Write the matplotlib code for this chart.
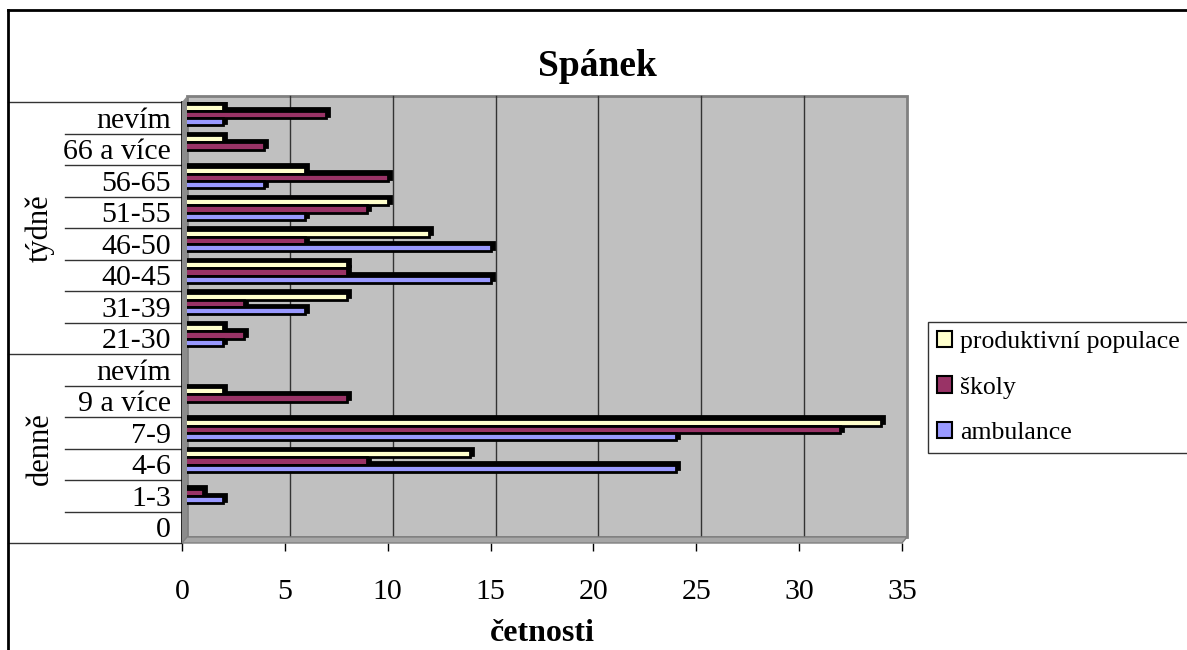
import matplotlib
matplotlib.use("Agg")
import matplotlib.pyplot as plt
import matplotlib.transforms as mtransforms
from matplotlib.patches import Patch, Polygon, Rectangle
from matplotlib.lines import Line2D
import numpy as np

plt.rcParams["font.family"] = ["Liberation Serif", "DejaVu Serif"]

# categories listed top to bottom as they appear on the axis
categories = ["nevím", "66 a více", "56-65", "51-55", "46-50", "40-45", "31-39", "21-30",
              "nevím", "9 a více", "7-9", "4-6", "1-3", "0"]
groups = ["týdně", "denně"]
group_sizes = [8, 6]

series_names = ["produktivní populace", "školy", "ambulance"]
produktivni = [2, 2, 6, 10, 12, 8, 8, 2, 0, 2, 34, 14, 0, 0]
skoly = [7, 4, 10, 9, 6, 8, 3, 3, 0, 8, 32, 9, 1, 0]
ambulance = [2, 0, 4, 6, 15, 15, 6, 2, 0, 0, 24, 24, 2, 0]
colors = ["#FFFFCC", "#993366", "#9999FF"]

xticks = [0, 5, 10, 15, 20, 25, 30, 35]

W, H = 1187, 650
fig = plt.figure(figsize=(W / 100, H / 100), dpi=100)

# front plane of the plot area in pixels
left, right, top, bottom = 182, 902, 102, 543
ax = fig.add_axes([left / W, 1 - bottom / H, (right - left) / W, (bottom - top) / H])
ax.set_facecolor("none")
n = len(categories)
ax.set_xlim(0, 35)
ax.set_ylim(-0.5, n - 0.5)
for s in ax.spines.values():
    s.set_visible(False)

# depth offset of the back wall
dx, dy = 5, 6
back = ax.transAxes + mtransforms.ScaledTranslation(dx / 100, dy / 100, fig.dpi_scale_trans)

# back wall, left side wall and floor
ax.add_patch(Rectangle((0, 0), 1, 1, transform=back, facecolor="#C0C0C0",
                       edgecolor="#808080", lw=2, zorder=0, clip_on=False))
fx0, fy0 = ax.transAxes.transform((0, 0))
fx1, fy1 = ax.transAxes.transform((1, 1))
inv = fig.transFigure.inverted()
side_pts = [(fx0, fy0), (fx0, fy1), (fx0 + dx, fy1 + dy), (fx0 + dx, fy0 + dy)]
floor_pts = [(fx0, fy0), (fx1, fy0), (fx1 + dx, fy0 + dy), (fx0 + dx, fy0 + dy)]
fig.add_artist(Polygon(inv.transform(side_pts), closed=True, transform=fig.transFigure,
                       facecolor="#8C8C8C", edgecolor="none", zorder=0.5))
fig.add_artist(Polygon(inv.transform(floor_pts), closed=True, transform=fig.transFigure,
                       facecolor="#A6A6A6", edgecolor="#808080", lw=1, zorder=0.5))

# gridlines on the back wall
grid_tr = ax.get_xaxis_transform() + mtransforms.ScaledTranslation(dx / 100, dy / 100, fig.dpi_scale_trans)
for v in xticks[1:-1]:
    ax.plot([v, v], [0, 1], transform=grid_tr, color="#333333", lw=1, zorder=1, clip_on=False)

# bars, listed bottom-up
ypos = np.arange(n)[::-1]
bh = 0.23
offsets = [bh + 0.1, 0.1, -bh + 0.1]
shadow = ax.transData + mtransforms.ScaledTranslation(3 / 100, 2.5 / 100, fig.dpi_scale_trans)
for vals, col, off in zip([produktivni, skoly, ambulance], colors, offsets):
    ax.barh(ypos + off, vals, height=bh, color="black", edgecolor="black", lw=2,
            transform=shadow, zorder=2)
    ax.barh(ypos + off, vals, height=bh, color=col, edgecolor="black", lw=2, zorder=3)

# front left edge
ax.plot([0, 0], [0, 1], transform=ax.transAxes, color="black", lw=1.2, zorder=4, clip_on=False)

# category labels
ax.set_yticks(ypos)
ax.set_yticklabels(categories, fontsize=21.5)
ax.tick_params(axis="y", length=0, pad=8)

# x axis ticks and label
ax.set_xticks(xticks)
ax.set_xticklabels([str(t) for t in xticks], fontsize=21.5)
ax.tick_params(axis="x", length=6, width=1, direction="out", pad=20, color="black")
ax.set_xlabel("četnosti", fontsize=23, fontweight="bold", labelpad=10)

# category table lines
ytr = ax.get_yaxis_transform()
x_inner = (65 - left) / (right - left)
x_outer = (8 - left) / (right - left)
group_edges = [n - 0.5, n - 0.5 - group_sizes[0], -0.5]
for b in np.arange(n + 1) - 0.5:
    x0 = x_outer if b in group_edges else x_inner
    ax.plot([x0, 0], [b, b], transform=ytr, color="#333333", lw=1, clip_on=False)

# group labels
start = n - 0.5
for g, size in zip(groups, group_sizes):
    mid = start - size / 2
    ax.text((40 - left) / (right - left), mid, g, transform=ytr, rotation=90,
            ha="center", va="center", fontsize=22)
    start -= size

# title
fig.text(597 / W, 1 - 66 / H, "Spánek", ha="center", va="center", fontsize=27, fontweight="bold")

# legend
handles = [Patch(facecolor=c, edgecolor="black", lw=1.5) for c in colors]
leg = fig.legend(handles, series_names, loc="upper left",
                 bbox_to_anchor=(928 / W, 1 - 322 / H), fontsize=18.5,
                 frameon=True, fancybox=False, edgecolor="black",
                 handlelength=0.6, handleheight=0.6, handletextpad=0.3,
                 labelspacing=0.9, borderpad=0.35, borderaxespad=0)
leg.get_frame().set_linewidth(1)

# outer border
fig.add_artist(Line2D([8 / W, 8 / W], [0, 1 - 10 / H], color="black", lw=2))
fig.add_artist(Line2D([8 / W, 1], [1 - 10 / H, 1 - 10 / H], color="black", lw=2))

fig.savefig("out.png", dpi=100)
